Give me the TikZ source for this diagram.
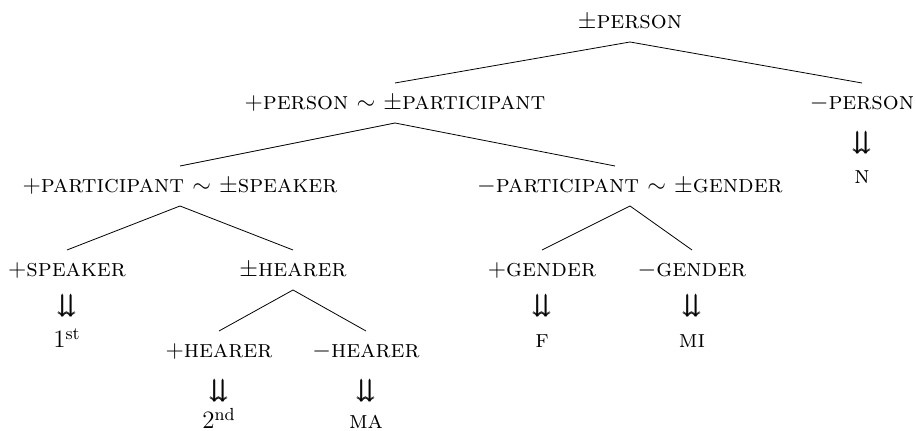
\documentclass[tikz,border=0pt]{standalone}
\usepackage{amsmath,amssymb}
\tikzset{
  feat/.style={anchor=base, inner sep=0pt, text height=7pt, text depth=0pt, outer sep=6.5pt, font=\fontsize{12.5}{15}\selectfont},
  arr/.style={inner sep=0pt, font=\fontsize{12.5}{15}\selectfont},
  val/.style={anchor=base, inner sep=0pt, font=\fontsize{12.5}{15}\selectfont}
}
\newcommand{\ftr}[2]{$#1$\textsc{#2}}
\newcommand{\dda}{$\pmb{\downdownarrows}$}
\begin{document}
\begin{tikzpicture}[x=0.5pt, y=-0.5pt]
        \useasboundingbox (0,0) rectangle (916,431);

        % Root and first split
        \node[feat] (PER) at (630,29) {\ftr{\pm}{person}};
        \node[feat] (PPAR) at (395,110) {\ftr{+}{person} $\sim$ \ftr{\pm}{participant}};
        \node[feat] (MPER) at (862,110) {\ftr{-}{person}};

        % Participants
        \node[feat] (PSPK) at (180,193) {\ftr{+}{participant} $\sim$ \ftr{\pm}{speaker}};
        \node[feat] (MGEN) at (630,193) {\ftr{-}{participant} $\sim$ \ftr{\pm}{gender}};

        % Speaker / hearer
        \node[feat] (SPK) at (67,277) {\ftr{+}{speaker}};
        \node[feat] (HRR) at (293,277) {\ftr{\pm}{hearer}};
        \node[feat] (PHRR) at (219,358) {\ftr{+}{hearer}};
        \node[feat] (MHRR) at (366,358) {\ftr{-}{hearer}};

        % Gender
        \node[feat] (PG) at (542,277) {\ftr{+}{gender}};
        \node[feat] (MG) at (692,277) {\ftr{-}{gender}};

        % Realisations
        \node[arr] (A1) at (862,143) {\dda};
        \node[val] (N) at (862,184) {\textsc{n}};
        \node[arr] (A2) at (67,306) {\dda};
        \node[val] (FST) at (67,348) {1\textsuperscript{st}};
        \node[arr] (A3) at (219,391) {\dda};
        \node[val] (SND) at (219,429) {2\textsuperscript{nd}};
        \node[arr] (A4) at (366,391) {\dda};
        \node[val] (MA) at (366,429) {\textsc{ma}};
        \node[arr] (A5) at (542,306) {\dda};
        \node[val] (F) at (542,348) {\textsc{f}};
        \node[arr] (A6) at (692,306) {\dda};
        \node[val] (MI) at (692,348) {\textsc{mi}};

        % Branches
        \draw (PER.south) -- (PPAR.north);
        \draw (PER.south) -- (MPER.north);
        \draw (PPAR.south) -- (PSPK.north);
        \draw (PPAR.south) -- ([xshift=-7.5pt]MGEN.north);
        \draw (PSPK.south) -- (SPK.north);
        \draw (PSPK.south) -- (HRR.north);
        \draw (HRR.south) -- (PHRR.north);
        \draw (HRR.south) -- (MHRR.north);
        \draw (MGEN.south) -- (PG.north);
        \draw (MGEN.south) -- (MG.north);

\end{tikzpicture}
\end{document}
